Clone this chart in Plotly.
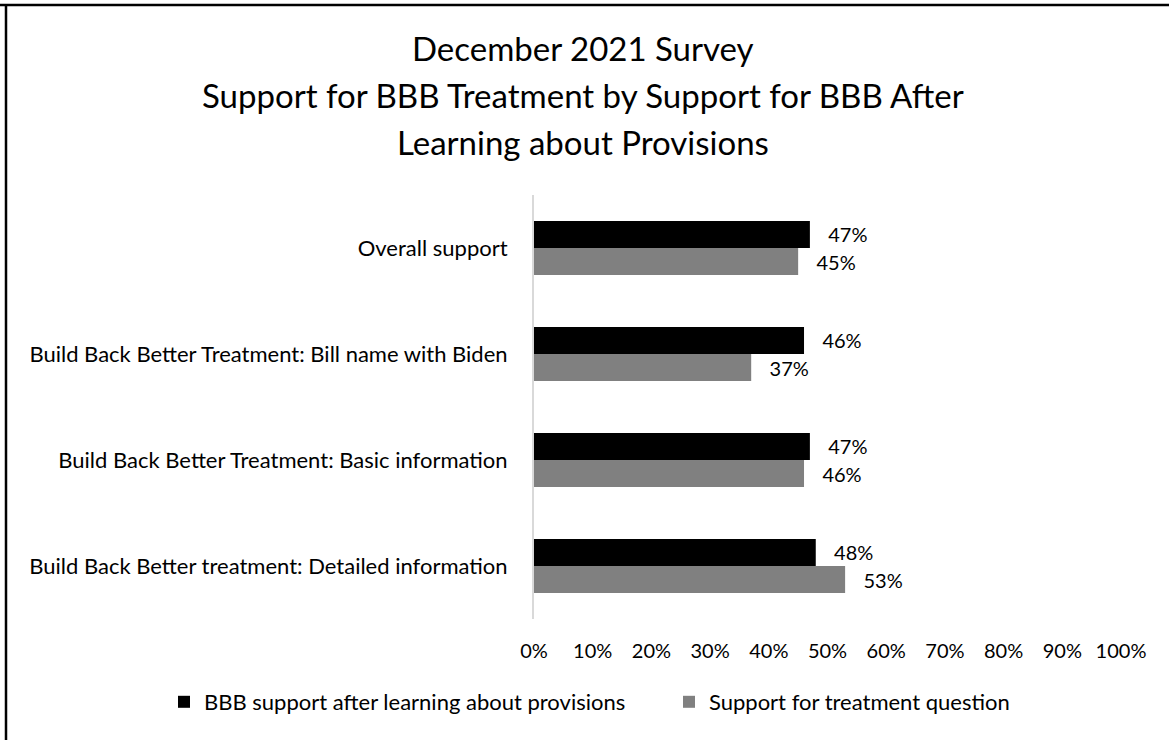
import plotly.graph_objects as go

# Survey groups (top to bottom) and the two measured shares, in percent
categories = [
    "Overall support",
    "Build Back Better Treatment: Bill name with Biden",
    "Build Back Better Treatment: Basic information",
    "Build Back Better treatment: Detailed information",
]
bbb_after_provisions = [47, 46, 47, 48]
treatment_support = [45, 37, 46, 53]

series_names = [
    "BBB support after learning about provisions",
    "Support for treatment question",
]
title_lines = [
    "December 2021 Survey",
    "Support for BBB Treatment by Support for BBB After",
    "Learning about Provisions",
]
tick_values = list(range(0, 101, 10))
tick_labels = [f"{v}%" for v in tick_values]

FONT = "Lato, Carlito, Calibri, sans-serif"
W, H = 1169, 740
# plot area in pixels
PL, PR, PT, PB = 534, 1121, 195, 619
PW, PH = PR - PL, PB - PT


def px_x(px):
    return (px - PL) / PW


def px_y(py):
    return (PB - py) / PH


label_font = dict(family=FONT, size=20, color="#000000")

fig = go.Figure()
fig.add_trace(go.Bar(
    name=series_names[0], y=categories, x=bbb_after_provisions, orientation="h",
    marker=dict(color="#000000", line=dict(width=0)),
    texttemplate="   %{x:.0f}%", textposition="outside", cliponaxis=False,
    textfont=label_font,
))
fig.add_trace(go.Bar(
    name=series_names[1], y=categories, x=treatment_support, orientation="h",
    marker=dict(color="#808080", line=dict(width=0)),
    texttemplate="   %{x:.0f}%", textposition="outside", cliponaxis=False,
    textfont=label_font,
))

# three-line chart title
annotations = [
    dict(text=line, xref="paper", yref="paper",
         x=px_x(583), y=px_y(48 + 47 * i), xanchor="center", yanchor="middle",
         showarrow=False, font=dict(family=FONT, size=33, color="#000000"))
    for i, line in enumerate(title_lines)
]

fig.update_layout(
    width=W, height=H,
    margin=dict(l=PL, r=W - PR, t=PT, b=H - PB, autoexpand=False),
    paper_bgcolor="#ffffff", plot_bgcolor="#ffffff",
    barmode="group", bargap=0.49, bargroupgap=0,
    font=dict(family=FONT, size=20, color="#000000"),
    showlegend=True,
    legend=dict(
        orientation="h", xref="paper", yref="paper",
        x=px_x(164), y=px_y(702), xanchor="left", yanchor="middle",
        font=dict(family=FONT, size=22, color="#000000"),
        traceorder="normal", entrywidth=460, entrywidthmode="pixels",
        bgcolor="rgba(0,0,0,0)",
    ),
    annotations=annotations,
)

# frame: top and left edges
fig.add_shape(type="line", xref="paper", yref="paper",
              x0=px_x(0), x1=px_x(W), y0=px_y(5), y1=px_y(5),
              line=dict(color="#000000", width=2.5))
fig.add_shape(type="line", xref="paper", yref="paper",
              x0=px_x(6), x1=px_x(6), y0=px_y(4), y1=px_y(H),
              line=dict(color="#000000", width=2.5))

fig.update_xaxes(
    range=[0, 100], tickvals=tick_values, ticktext=tick_labels,
    showgrid=False, zeroline=False, showline=False, ticks="",
    ticklabelstandoff=18, tickfont=label_font,
)
fig.update_yaxes(
    categoryorder="array", categoryarray=categories, autorange="reversed",
    showgrid=False, zeroline=False, showline=True, linecolor="#d9d9d9", linewidth=2,
    ticks="", ticklabelstandoff=20, tickfont=dict(family=FONT, size=22, color="#000000"),
)

fig.write_html("out.html")
